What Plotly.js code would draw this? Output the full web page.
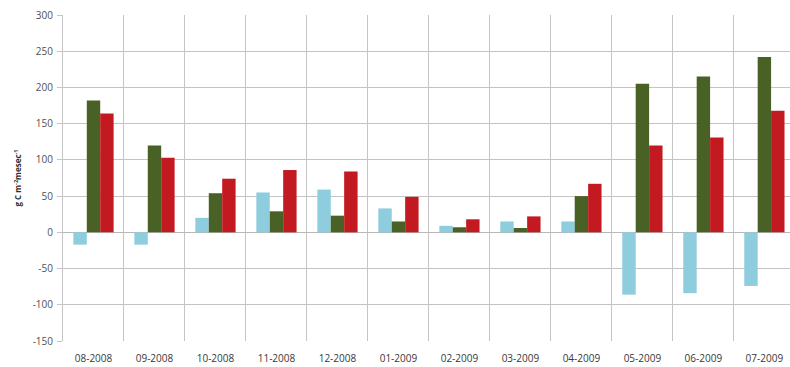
<!DOCTYPE html>
<html>
<head>
<meta charset="utf-8">
<script src="https://cdn.plot.ly/plotly-3.0.1.min.js"></script>
<style>html,body{margin:0;padding:0;background:#fff;}#chart{width:790px;height:367px;}</style>
</head>
<body>
<div id="chart"></div>
<script>
const months = ["08-2008","09-2008","10-2008","11-2008","12-2008","01-2009","02-2009","03-2009","04-2009","05-2009","06-2009","07-2009"];
const seriesBlue  = [-17, -17, 20, 55, 59, 33, 9, 15, 15, -86, -84, -74];
const seriesGreen = [182, 120, 54, 29, 23, 15, 7, 6, 50, 205, 215, 242];
const seriesRed   = [164, 103, 74, 86, 84, 49, 18, 22, 67, 120, 131, 168];
const yTicks = [-150, -100, -50, 0, 50, 100, 150, 200, 250, 300];
const yTickText = ["-150", "-100", "-50", "0", "50", "100", "150", "200", "250", "300"];

const traces = [
  {type:"bar", x:months, y:seriesBlue, marker:{color:"#8ECDDE"}, name:"a"},
  {type:"bar", x:months, y:seriesGreen, marker:{color:"#4A6126"}, name:"b"},
  {type:"bar", x:months, y:seriesRed, marker:{color:"#C31A21"}, name:"c"}
];
const layout = {
  width:790, height:367,
  margin:{l:63, r:0, t:15, b:26},
  paper_bgcolor:"#ffffff", plot_bgcolor:"#ffffff",
  showlegend:false,
  barmode:"group", bargap:0.34, bargroupgap:0,
  font:{family:"Open Sans, Liberation Sans, sans-serif", size:10, color:"#404040"},
  xaxis:{type:"category", range:[-0.5, 11.42], tickson:"boundaries", showgrid:true,
         gridcolor:"#c4c4c4", gridwidth:1, ticks:"", ticklabelstandoff:10,
         tickfont:{size:10, color:"#383838"}, fixedrange:true, zeroline:false},
  yaxis:{range:[-150, 300], tickvals:yTicks, ticktext:yTickText, showgrid:true, gridcolor:"#c4c4c4", gridwidth:1,
         zeroline:true, zerolinecolor:"#b8b8b8", zerolinewidth:1,
         showline:true, linecolor:"#c4c4c4", ticks:"outside", ticklen:5, tickcolor:"#c4c4c4",
         tickfont:{size:10, color:"#505050"}, ticklabelstandoff:2,
         title:{text:"<b>g C m<sup>-2</sup>mesec<sup>-1</sup></b>", font:{size:8, color:"#303030"}, standoff:9}}
};
Plotly.newPlot("chart", traces, layout, {staticPlot:true, displayModeBar:false});
</script>
</body>
</html>
